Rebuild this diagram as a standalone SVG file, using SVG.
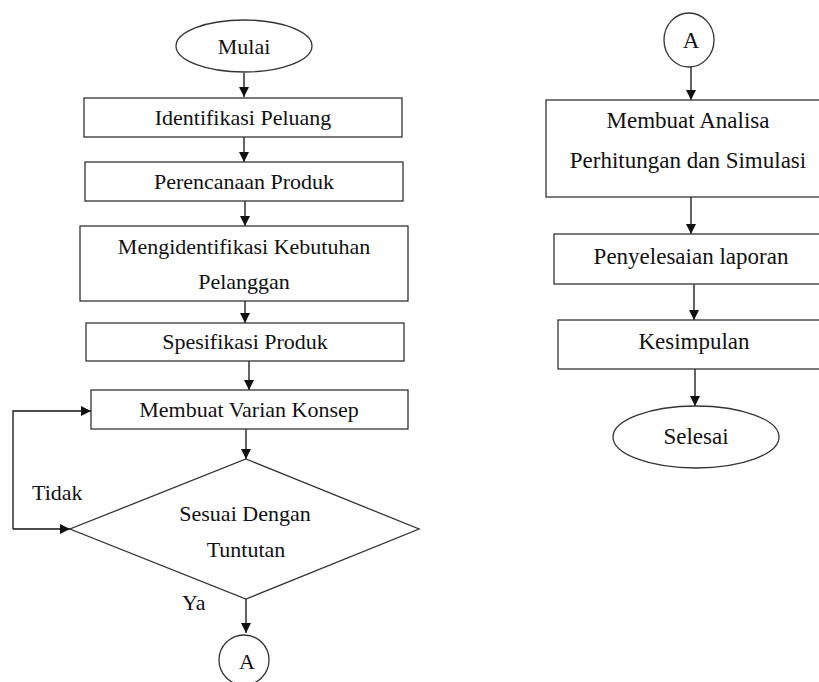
<svg xmlns="http://www.w3.org/2000/svg" width="819" height="682" viewBox="0 0 819 682">
<defs>
<style>
.s{fill:#fff;stroke:#333;stroke-width:1.3}
.t{font-family:"Liberation Serif","Times New Roman",serif;font-size:22px;fill:#111;text-anchor:middle}
.r{font-size:23px}
.l{font-family:"Liberation Serif","Times New Roman",serif;font-size:22px;fill:#111}
.c{fill:none;stroke:#111;stroke-width:1.3}
</style>
<marker id="ah" viewBox="0 0 10 10" refX="10" refY="5" markerWidth="10" markerHeight="10" markerUnits="userSpaceOnUse" orient="auto">
<path d="M0,0 L10,5 L0,10 Z" fill="#111"/>
</marker>
</defs>
<rect width="819" height="682" fill="#fff"/>
<g id="connectors">
<path class="c" d="M244,73 V97" marker-end="url(#ah)"/>
<path class="c" d="M244,137 V162" marker-end="url(#ah)"/>
<path class="c" d="M245,201 V226" marker-end="url(#ah)"/>
<path class="c" d="M245,301 V323" marker-end="url(#ah)"/>
<path class="c" d="M249,361 V390" marker-end="url(#ah)"/>
<path class="c" d="M246,429 V459" marker-end="url(#ah)"/>
<path class="c" d="M13,529 H70" marker-end="url(#ah)"/>
<path class="c" d="M13,529 V411 H91" marker-end="url(#ah)"/>
<path class="c" d="M246,599 V633" marker-end="url(#ah)"/>
<path class="c" d="M691,67 V100" marker-end="url(#ah)"/>
<path class="c" d="M691,197 V234" marker-end="url(#ah)"/>
<path class="c" d="M694,284 V320" marker-end="url(#ah)"/>
<path class="c" d="M695,369 V406" marker-end="url(#ah)"/>
</g>
<g id="mulai"><ellipse class="s" cx="244" cy="46" rx="68" ry="26"/><text class="t" x="244" y="54">Mulai</text></g>
<g id="identifikasi"><rect class="s" x="84" y="98" width="318" height="39"/><text class="t" x="243" y="125">Identifikasi Peluang</text></g>
<g id="perencanaan"><rect class="s" x="85" y="162" width="318" height="39"/><text class="t" x="244" y="189">Perencanaan Produk</text></g>
<g id="kebutuhan"><rect class="s" x="80" y="226" width="328" height="75"/><text class="t" x="244" y="254">Mengidentifikasi Kebutuhan</text><text class="t" x="244" y="289">Pelanggan</text></g>
<g id="spesifikasi"><rect class="s" x="86" y="323" width="318" height="38"/><text class="t" x="245" y="349">Spesifikasi Produk</text></g>
<g id="varian"><rect class="s" x="91" y="390" width="317" height="39"/><text class="t" x="249" y="417">Membuat Varian Konsep</text></g>
<g id="sesuai"><polygon class="s" points="246,459 419,529 246,599 70,529"/><text class="t" x="245" y="521">Sesuai Dengan</text><text class="t" x="246" y="557">Tuntutan</text></g>
<g id="label-tidak"><text class="l" x="32" y="500">Tidak</text></g>
<g id="label-ya"><text class="l" x="182" y="610">Ya</text></g>
<g id="a-out"><circle class="s" cx="244" cy="660" r="25"/><text class="t" x="247" y="669">A</text></g>
<g id="a-in"><ellipse class="s" cx="689" cy="40" rx="25" ry="27"/><text class="t r" x="691" y="48">A</text></g>
<g id="analisa"><rect class="s" x="546" y="100" width="280" height="97"/><text class="t r" x="688" y="128">Membuat Analisa</text><text class="t r" x="688" y="168">Perhitungan dan Simulasi</text></g>
<g id="laporan"><rect class="s" x="554" y="234" width="272" height="50"/><text class="t r" x="691" y="264">Penyelesaian laporan</text></g>
<g id="kesimpulan"><rect class="s" x="558" y="320" width="268" height="49"/><text class="t r" x="694" y="349">Kesimpulan</text></g>
<g id="selesai"><ellipse class="s" cx="696" cy="437" rx="83" ry="31"/><text class="t r" x="696" y="444">Selesai</text></g>
</svg>
